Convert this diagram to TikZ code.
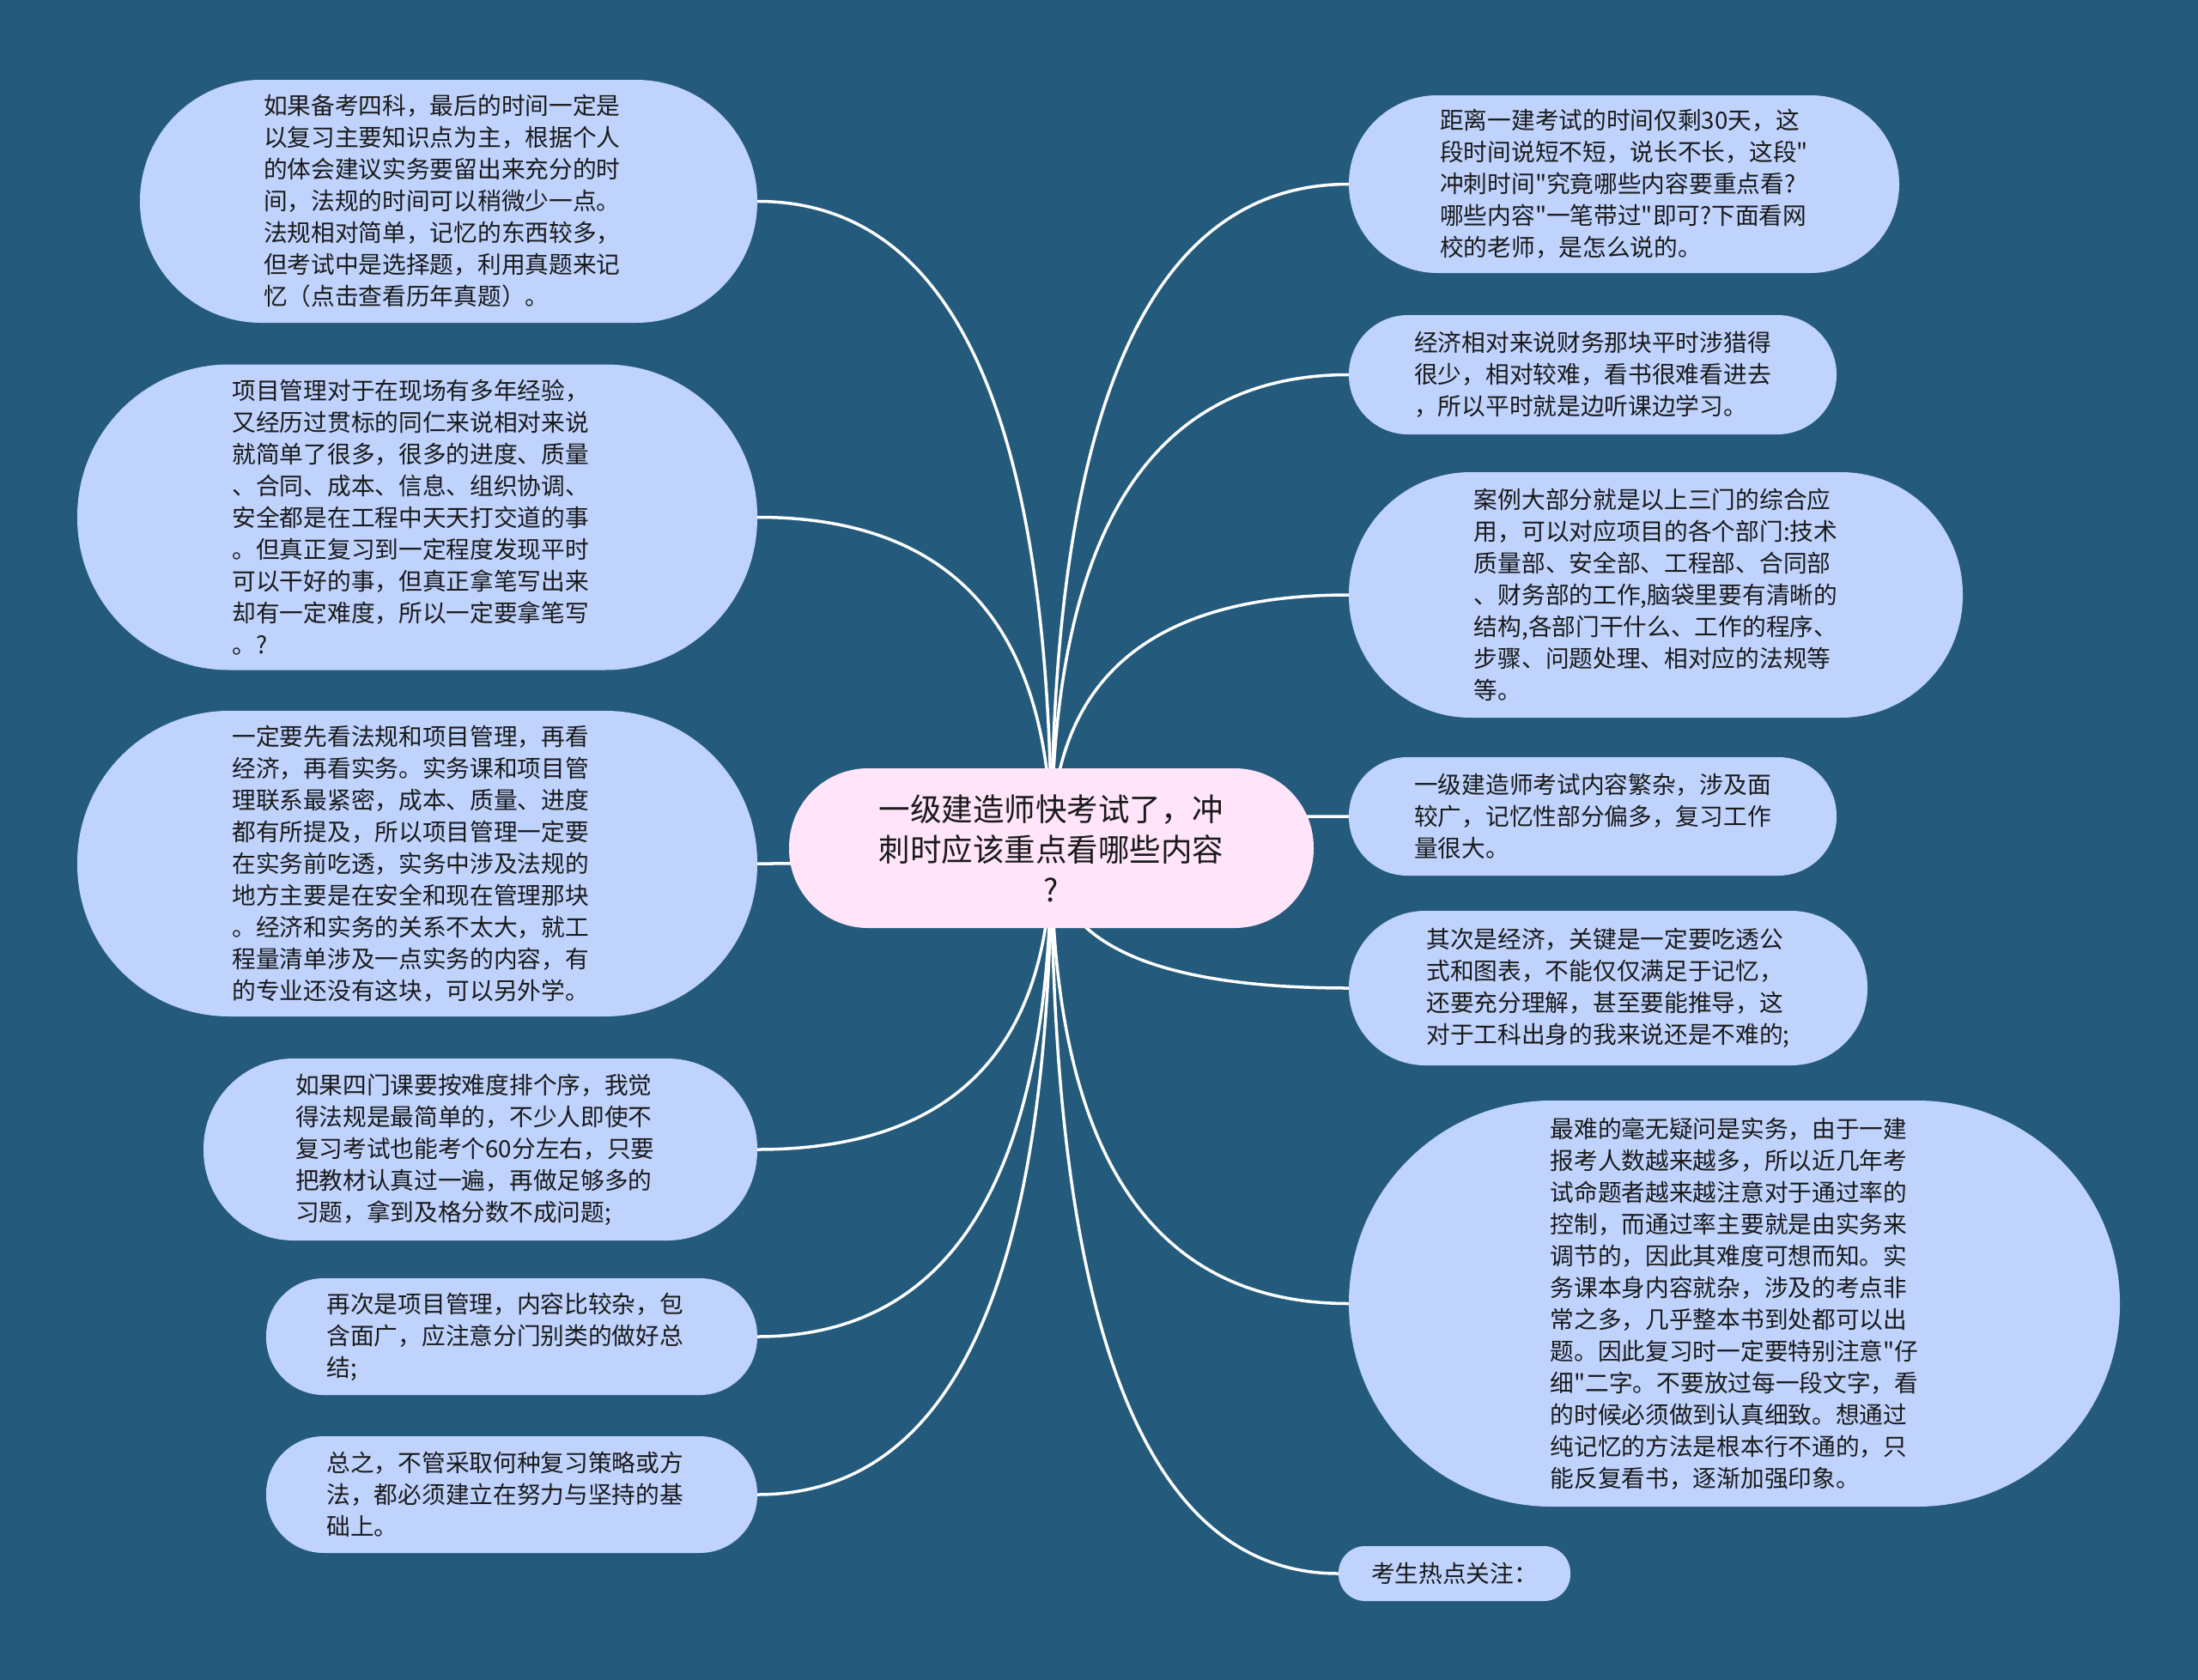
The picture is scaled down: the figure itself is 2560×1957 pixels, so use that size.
\documentclass[tikz,border=0pt]{standalone}
\usepackage{fontspec}
\setmainfont{Noto Sans CJK SC}[Ligatures=TeXOff]
\usetikzlibrary{calc}
\pgfdeclarelayer{bglayer}
\pgfdeclarelayer{edgelayer}
\pgfsetlayers{bglayer,edgelayer,main}
\definecolor{bgblue}{HTML}{245A7C}
\definecolor{leaffill}{HTML}{BFD3FD}
\definecolor{rootfill}{HTML}{FFE4FA}
\definecolor{txt}{HTML}{1A1A1A}
\tikzset{
  leaf/.style={fill=leaffill, text=txt, align=left, inner sep=0pt, font=\fontsize{27.7}{37}\selectfont},
  leftleaf/.style={leaf, text width=431pt},
  rootnode/.style={fill=rootfill, text=txt, align=center, inner sep=0pt, font=\fontsize{36.5}{47}\selectfont},
  edge/.style={draw=white, line width=3.5pt},
  sz/.style n args={3}{minimum width=#1pt, minimum height=#2pt, rounded corners=#3pt}
}
\newcommand\mmconn[2]{%
  \coordinate (k#1) at (root.center|-#1.#2);
  \draw[edge] (root.center) .. controls ($(root.center)!0.667!(k#1)$) and ($(#1.#2)!0.667!(k#1)$) .. (#1.#2);}
\begin{document}
\begin{tikzpicture}[x=1pt,y=-1pt]
\begin{pgfonlayer}{bglayer}
\fill[bgblue] (0,0) rectangle (2560,1957);
\end{pgfonlayer}
\useasboundingbox (0,0) rectangle (2560,1957);

\node[rootnode, sz={611}{186}{92}] (root) at (1224.5,988) {一级建造师快考试了，冲\\刺时应该重点看哪些内容\\?};

\node[leftleaf, sz={719}{283}{141}] (L1) at (522.5,234.5) {如果备考四科，最后的时间一定是\\以复习主要知识点为主，根据个人\\的体会建议实务要留出来充分的时\\间，法规的时间可以稍微少一点。\\法规相对简单，记忆的东西较多，\\但考试中是选择题，利用真题来记\\忆（点击查看历年真题）。};

\node[leftleaf, sz={792}{356}{177}] (L2) at (486,602.5) {项目管理对于在现场有多年经验，\\又经历过贯标的同仁来说相对来说\\就简单了很多，很多的进度、质量\\、合同、成本、信息、组织协调、\\安全都是在工程中天天打交道的事\\。但真正复习到一定程度发现平时\\可以干好的事，但真正拿笔写出来\\却有一定难度，所以一定要拿笔写\\。?};

\node[leftleaf, sz={792}{356}{177}] (L3) at (486,1006) {一定要先看法规和项目管理，再看\\经济，再看实务。实务课和项目管\\理联系最紧密，成本、质量、进度\\都有所提及，所以项目管理一定要\\在实务前吃透，实务中涉及法规的\\地方主要是在安全和现在管理那块\\。经济和实务的关系不太大，就工\\程量清单涉及一点实务的内容，有\\的专业还没有这块，可以另外学。};

\node[leftleaf, sz={645}{212}{105}] (L4) at (559.5,1339) {如果四门课要按难度排个序，我觉\\得法规是最简单的，不少人即使不\\复习考试也能考个60分左右，只要\\把教材认真过一遍，再做足够多的\\习题，拿到及格分数不成问题;};

\node[leftleaf, sz={572}{136}{67}] (L5) at (596,1557) {再次是项目管理，内容比较杂，包\\含面广，应注意分门别类的做好总\\结;};

\node[leftleaf, sz={572}{136}{67}] (L6) at (596,1741) {总之，不管采取何种复习策略或方\\法，都必须建立在努力与坚持的基\\础上。};

\node[leaf, sz={641}{207}{103}] (R1) at (1891.5,214.5) {距离一建考试的时间仅剩30天，这\\段时间说短不短，说长不长，这段"\\冲刺时间"究竟哪些内容要重点看?\\哪些内容"一笔带过"即可?下面看网\\校的老师，是怎么说的。};

\node[leaf, sz={568}{139}{69}] (R2) at (1855,436.5) {经济相对来说财务那块平时涉猎得\\很少，相对较难，看书很难看进去\\，所以平时就是边听课边学习。};

\node[leaf, sz={715}{286}{142}] (R3) at (1928.5,693) {案例大部分就是以上三门的综合应\\用，可以对应项目的各个部门:技术\\质量部、安全部、工程部、合同部\\、财务部的工作,脑袋里要有清晰的\\结构,各部门干什么、工作的程序、\\步骤、问题处理、相对应的法规等\\等。};

\node[leaf, sz={568}{138}{68}] (R4) at (1855,951) {一级建造师考试内容繁杂，涉及面\\较广，记忆性部分偏多，复习工作\\量很大。};

\node[leaf, sz={604}{180}{89}] (R5) at (1873,1151) {其次是经济，关键是一定要吃透公\\式和图表，不能仅仅满足于记忆，\\还要充分理解，甚至要能推导，这\\对于工科出身的我来说还是不难的;};

\node[leaf, sz={898}{473}{236}] (R6) at (2020,1518.5) {最难的毫无疑问是实务，由于一建\\报考人数越来越多，所以近几年考\\试命题者越来越注意对于通过率的\\控制，而通过率主要就是由实务来\\调节的，因此其难度可想而知。实\\务课本身内容就杂，涉及的考点非\\常之多，几乎整本书到处都可以出\\题。因此复习时一定要特别注意"仔\\细"二字。不要放过每一段文字，看\\的时候必须做到认真细致。想通过\\纯记忆的方法是根本行不通的，只\\能反复看书，逐渐加强印象。};

\node[leaf, sz={270}{64}{31}] (R7) at (1694,1833) {考生热点关注：};

\begin{pgfonlayer}{edgelayer}
\mmconn{L1}{east}
\mmconn{L2}{east}
\mmconn{L3}{east}
\mmconn{L4}{east}
\mmconn{L5}{east}
\mmconn{L6}{east}
\mmconn{R1}{west}
\mmconn{R2}{west}
\mmconn{R3}{west}
\mmconn{R4}{west}
\mmconn{R5}{west}
\mmconn{R6}{west}
\mmconn{R7}{west}
\end{pgfonlayer}
\end{tikzpicture}
\end{document}
